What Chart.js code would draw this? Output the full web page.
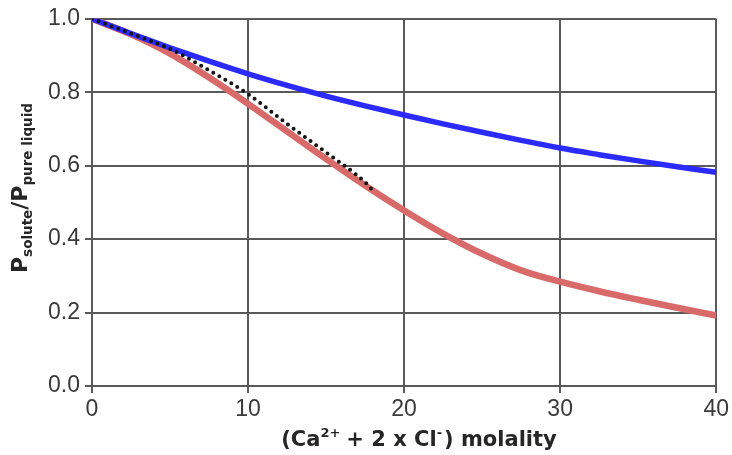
<!DOCTYPE html>
<html><head><meta charset="utf-8">
<script src="https://cdn.jsdelivr.net/npm/chart.js@4.4.1/dist/chart.umd.min.js"></script>
<style>html,body{margin:0;padding:0;background:#fff}#wrap{width:732px;height:455px;position:relative}</style>
</head><body><div id="wrap"><canvas id="c"></canvas></div>
<script>
// ---- data ----
const molality = [0, 2.5, 5, 7.5, 10, 12.5, 15, 17.5, 20, 22.5, 25, 27.5, 30, 32.5, 35, 37.5, 40];
const blueRatio = [1.0, 0.9595, 0.921, 0.8845, 0.850, 0.8185, 0.7895, 0.763, 0.738, 0.714, 0.691, 0.669, 0.648, 0.630, 0.613, 0.597, 0.582];
const redRatio  = [1.0, 0.9575, 0.905, 0.840, 0.7685, 0.6935, 0.6185, 0.546, 0.478, 0.415, 0.360, 0.315, 0.284, 0.258, 0.235, 0.213, 0.192];
const dottedMolality = [0, 2.5, 5, 7.5, 10, 12.5, 15, 17.5, 18];
const dottedRatio    = [1.0, 0.960, 0.918, 0.860, 0.795, 0.714, 0.636, 0.555, 0.532];
const xTicks = [0, 10, 20, 30, 40];
const yTicks = [0.0, 0.2, 0.4, 0.6, 0.8, 1.0];

const pts = (xs, ys) => xs.map((x, i) => ({x: x, y: ys[i]}));

const GRID = '#5a5a5a';
const TICKFONT = {family: '"Liberation Sans", Arial, sans-serif', size: 23};
const TITLEFAM = '"DejaVu Sans", Verdana, sans-serif';

function drawPieces(ctx, pieces, startX, baseY) {
  let x = startX;
  for (const p of pieces) {
    ctx.font = 'bold ' + p.size + 'px ' + TITLEFAM;
    ctx.fillText(p.t, x, baseY + (p.dy || 0));
    x += ctx.measureText(p.t).width + (p.gap || 0);
  }
  return x - startX;
}
function widthOf(ctx, pieces) {
  let w = 0;
  for (const p of pieces) { ctx.font = 'bold ' + p.size + 'px ' + TITLEFAM; w += ctx.measureText(p.t).width + (p.gap || 0); }
  return w;
}

const titlePlugin = {
  id: 'titles',
  afterDraw(chart) {
    const ctx = chart.ctx;
    ctx.save();
    ctx.fillStyle = '#262626';
    ctx.textBaseline = 'alphabetic';
    ctx.textAlign = 'left';
    // x-axis title
    const xp = [
      {t: '(Ca', size: 21},
      {t: '2+', size: 13, dy: -9, gap: 6},
      {t: '+ 2 x Cl', size: 21},
      {t: '-', size: 13, dy: -9, gap: 2},
      {t: ') molality', size: 21}
    ];
    const wx = widthOf(ctx, xp);
    drawPieces(ctx, xp, 419 - wx / 2, 446);
    // y-axis title (rotated)
    const yp = [
      {t: 'P', size: 22},
      {t: 'solute', size: 13.5, dy: 5},
      {t: '/P', size: 22},
      {t: 'pure liquid', size: 13.5, dy: 5}
    ];
    const wy = widthOf(ctx, yp);
    ctx.translate(27, 188);
    ctx.rotate(-Math.PI / 2);
    drawPieces(ctx, yp, -wy / 2, 0);
    ctx.restore();
  }
};

new Chart(document.getElementById('c'), {
  type: 'line',
  data: {
    datasets: [
      {data: pts(dottedMolality, dottedRatio), borderColor: '#141414', borderWidth: 4,
       borderDash: [0, 7], borderCapStyle: 'round', pointRadius: 0, cubicInterpolationMode: 'monotone', fill: false},
      {data: pts(molality, blueRatio), borderColor: '#2b2bff', borderWidth: 5.5,
       pointRadius: 0, cubicInterpolationMode: 'monotone', fill: false},
      {data: pts(molality, redRatio), borderColor: '#d96a6a', borderWidth: 6.5,
       pointRadius: 0, cubicInterpolationMode: 'monotone', fill: false}
    ]
  },
  options: {
    responsive: true, maintainAspectRatio: false, animation: false, devicePixelRatio: 1,
    layout: {padding: {left: 0, top: 18, right: 13, bottom: 0}},
    plugins: {legend: {display: false}, tooltip: {enabled: false}},
    scales: {
      x: {
        type: 'linear', min: 0, max: 40,
        afterBuildTicks: s => { s.ticks = xTicks.map(v => ({value: v})); },
        afterFit: s => { s.height = 69; },
        grid: {color: GRID, lineWidth: 2, tickLength: 7, drawTicks: true},
        border: {display: true, color: GRID, width: 2},
        ticks: {font: TICKFONT, color: '#3a3a3a', padding: 3, maxRotation: 0,
                callback: v => String(v)}
      },
      y: {
        type: 'linear', min: 0, max: 1,
        afterBuildTicks: s => { s.ticks = yTicks.map(v => ({value: v})); },
        afterFit: s => { s.width = 92; },
        grid: {color: GRID, lineWidth: 2, tickLength: 7, drawTicks: true},
        border: {display: true, color: GRID, width: 2},
        ticks: {font: TICKFONT, color: '#3a3a3a', padding: 5,
                callback: v => Number(v).toFixed(1)}
      }
    }
  },
  plugins: [titlePlugin]
});
</script>
</body></html>
